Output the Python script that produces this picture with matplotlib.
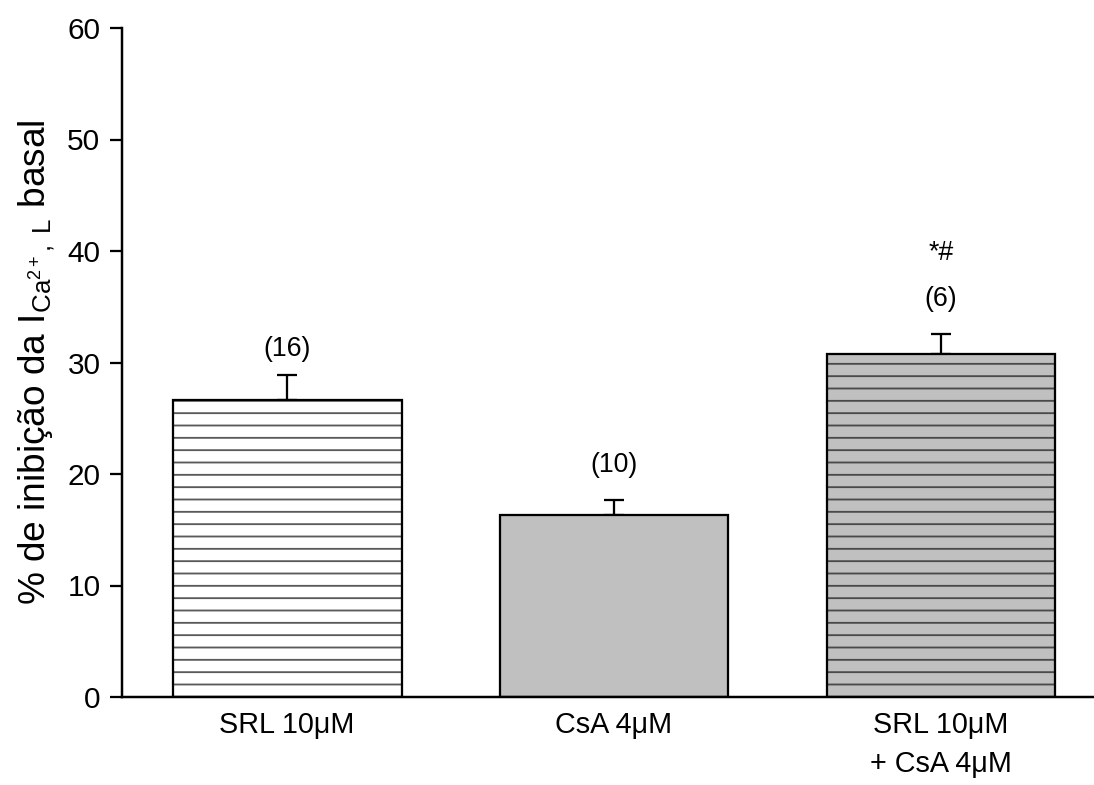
import numpy as np
import matplotlib
matplotlib.use("Agg")
import matplotlib.pyplot as plt

plt.rcParams['font.family'] = ['Liberation Sans', 'DejaVu Sans']
plt.rcParams['mathtext.fontset'] = 'custom'
plt.rcParams['mathtext.rm'] = 'Liberation Sans'
plt.rcParams['mathtext.it'] = 'Liberation Sans:italic'
plt.rcParams['hatch.linewidth'] = 1.8

# dados
grupos = ['SRL 10μM', 'CsA 4μM', 'SRL 10μM\n+ CsA 4μM']
media = [26.6, 16.3, 30.8]
erro = [2.3, 1.4, 1.8]
n_txt = ['(16)', '(10)', '(6)']
n_y = [31.2, 20.8, 35.7]
sig_txt = ['', '', '*#']
sig_y = [0, 0, 39.8]

cores = ['white', '#c0c0c0', '#c0c0c0']
hachuras = ['-', None, '-']
cor_hachura = ['#5a5a5a', '#c0c0c0', '#4a4a4a']

DPI = 74
fig = plt.figure(figsize=(1094 / DPI, 785 / DPI), dpi=DPI)
ax = fig.add_axes([122 / 1094, 1 - 697 / 785, 1 - 122 / 1094, (697 - 28) / 785])

x = np.arange(len(grupos))
larg = 0.7

# preenchimento + hachura
for i in range(len(x)):
    ax.bar(x[i], media[i], larg, color=cores[i], edgecolor=cor_hachura[i],
           linewidth=0, hatch=hachuras[i], zorder=2)
# contorno
ax.bar(x, media, larg, fill=False, edgecolor='black', linewidth=2.2, zorder=3)

# barras de erro (só para cima)
ax.errorbar(x, media, yerr=[np.zeros(len(erro)), erro], fmt='none',
            ecolor='black', elinewidth=2.2, capsize=10, capthick=2.2, zorder=1)

for i in range(len(x)):
    ax.text(x[i], n_y[i], n_txt[i], ha='center', va='center', fontsize=26)
    if sig_txt[i]:
        ax.text(x[i], sig_y[i], sig_txt[i], ha='center', va='center', fontsize=26)

ax.set_xlim(-0.505, 2.468)
ax.set_ylim(0, 60)
ax.set_yticks(np.arange(0, 61, 10))
ax.set_xticks(x)
ax.set_xticklabels(grupos, fontsize=28, linespacing=1.5)
ax.tick_params(axis='x', length=0, pad=14)
ax.tick_params(axis='y', length=12, width=2.2, labelsize=29, pad=9)

ax.spines['top'].set_visible(False)
ax.spines['right'].set_visible(False)
ax.spines['left'].set_linewidth(2.4)
ax.spines['bottom'].set_linewidth(2.4)

ax.set_ylabel(r'% de inibição da I$_{\mathrm{Ca}^{2+}\mathrm{,\ L}}$ basal', fontsize=36, labelpad=10)

fig.savefig('out.png', dpi=DPI)
